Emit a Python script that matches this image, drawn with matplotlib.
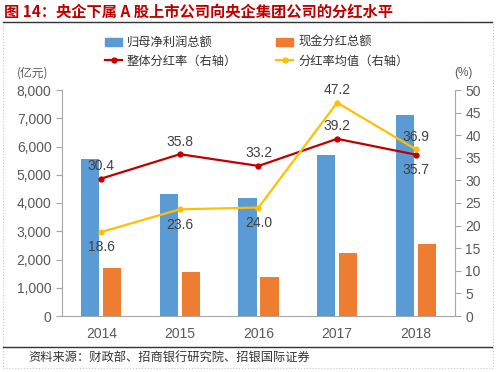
import numpy as np
import matplotlib.pyplot as plt
from matplotlib.lines import Line2D
from matplotlib.patches import Patch, Rectangle

plt.rcParams['font.family'] = ['Liberation Sans', 'Noto Sans CJK SC', 'DejaVu Sans']

# Dane
years = ['2014', '2015', '2016', '2017', '2018']
profit = [5560, 4320, 4170, 5690, 7120]        # 归母净利润总额（亿元）
dividend = [1700, 1560, 1380, 2240, 2550]      # 现金分红总额（亿元）
rate_total = [30.4, 35.8, 33.2, 39.2, 35.7]    # 整体分红率（%）
rate_mean = [18.6, 23.6, 24.0, 47.2, 36.9]     # 分红率均值（%）

blue = '#5B9BD5'
orange = '#ED7D31'
red = '#C00000'
yellow = '#FFC000'
txt = '#404040'
cjk = ['Noto Sans CJK SC', 'DejaVu Sans']

fig = plt.figure(figsize=(4.99, 3.72), dpi=100)

# ramka i linie
fig.patches.append(Rectangle((3/499, 1-368/372), 490/499, 346/372, transform=fig.transFigure,
                             fill=False, ec='#C8C8C8', lw=0.8, ls=':'))
fig.add_artist(Line2D([3/499, 492/499], [1-22/372]*2, color='#333333', lw=1.0))
fig.add_artist(Line2D([3/499, 492/499], [1-347/372]*2, color='#333333', lw=1.0))

fig.text(4/499, 1-12/372, '图 14：央企下属 A 股上市公司向央企集团公司的分红水平',
         color=red, fontsize=11, fontweight='bold', family=cjk, va='center', ha='left')
fig.text(28/499, 1-357/372, '资料来源：财政部、招商银行研究院、招银国际证券',
         color='#333333', fontsize=8.8, family=cjk, va='center', ha='left')

ax = fig.add_axes([62/499, 1-316/372, 393/499, 226/372])
x = np.arange(len(years))
w = 0.23
ax.bar(x - 0.14, profit, w, color=blue)
ax.bar(x + 0.14, dividend, w, color=orange)
ax.set_xlim(-0.5, 4.5)
ax.set_ylim(0, 8000)
ax.set_yticks(np.arange(0, 8001, 1000))
ax.set_yticklabels([f'{v:,}' for v in range(0, 8001, 1000)])
ax.set_xticks(x)
ax.set_xticklabels(years)

ax2 = ax.twinx()
ax2.plot(x, rate_total, color=red, lw=1.6, marker='o', ms=3.5)
ax2.plot(x, rate_mean, color=yellow, lw=1.6, marker='o', ms=3.5)
ax2.set_ylim(0, 50)
ax2.set_yticks(np.arange(0, 51, 5))

for a in (ax, ax2):
    a.spines['top'].set_visible(False)
    for s in ('left', 'right', 'bottom'):
        a.spines[s].set_color('#A6A6A6')
    a.tick_params(colors='#A6A6A6', labelcolor='#595959', labelsize=10, length=4, width=0.8)
ax.spines['right'].set_visible(False)
ax2.spines['left'].set_visible(False)
ax2.spines['bottom'].set_visible(False)
ax.tick_params(axis='x', length=0, pad=8)

# etykiety wartości
red_pos = ['above', 'above', 'above', 'above', 'below']
mean_pos = ['below', 'below', 'below', 'above', 'above']
for i in range(len(years)):
    dy = 9 if red_pos[i] == 'above' else -11
    ax2.annotate(f'{rate_total[i]:.1f}', (x[i], rate_total[i]), xytext=(0, dy),
                 textcoords='offset points', ha='center', va='center', fontsize=10, color=txt)
    dy = 9 if mean_pos[i] == 'above' else -11
    ax2.annotate(f'{rate_mean[i]:.1f}', (x[i], rate_mean[i]), xytext=(0, dy),
                 textcoords='offset points', ha='center', va='center', fontsize=10, color=txt)

fig.text(33/499, 1-73/372, '(亿元)', fontsize=8.5, color='#595959', family=cjk,
         ha='center', va='center', style='italic')
fig.text(463/499, 1-73/372, '(%)', fontsize=8.5, color='#595959', ha='center', va='center')

handles = [Patch(color=blue, label='归母净利润总额'),
           Line2D([], [], color=red, lw=1.6, marker='o', ms=3.5, label='整体分红率（右轴）'),
           Patch(color=orange, label='现金分红总额'),
           Line2D([], [], color=yellow, lw=1.6, marker='o', ms=3.5, label='分红率均值（右轴）')]
fig.legend(handles=handles, ncol=2, loc='upper left', bbox_to_anchor=(94/499, 1-25/372),
           frameon=False, prop={'family': cjk, 'size': 8.8}, handlelength=1.4,
           handleheight=0.6, columnspacing=3.2, labelspacing=0.45, handletextpad=0.4,
           labelcolor='#333333')

fig.savefig('out.png', dpi=100)
